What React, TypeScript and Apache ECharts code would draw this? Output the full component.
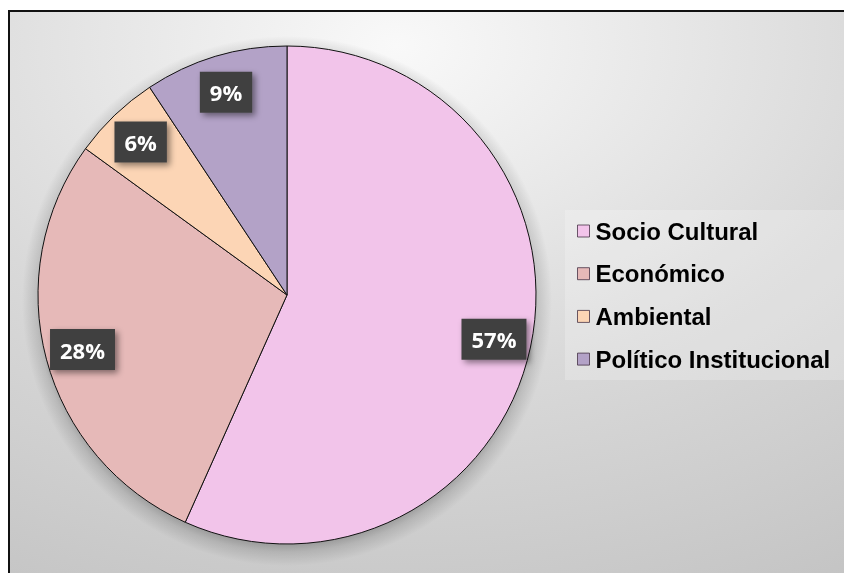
import React, { useEffect, useRef } from "react";
import * as echarts from "echarts";

const categories = ["Socio Cultural", "Económico", "Ambiental", "Político Institucional"];
const values = [56.7, 28.3, 5.7, 9.3];
const colors = ["#f2c4ea", "#e6b9b8", "#fcd5b5", "#b3a2c7"];

const CX = 287;
const CY = 295;
const R = 249;
const SH = 16;

export default function App() {
  const ref = useRef<HTMLDivElement>(null);

  useEffect(() => {
    if (!ref.current) return;
    const chart = echarts.init(ref.current, undefined, { renderer: "svg" });
    const option: any = {
      animation: false,
      graphic: [
        {
          type: "rect",
          z: -10,
          silent: true,
          shape: { x: 9, y: 11, width: 860, height: 580 },
          style: {
            fill: {
              type: "radial",
              x: 0.45,
              y: 0.06,
              r: 1.15,
              colorStops: [
                { offset: 0, color: "#f9f9f9" },
                { offset: 0.5, color: "#d9d9d9" },
                { offset: 1, color: "#c0c0c0" },
              ],
            },
            stroke: "#111",
            lineWidth: 2,
          },
        },
        {
          type: "circle",
          z: -5,
          silent: true,
          shape: { cx: CX, cy: CY + 6, r: R + SH },
          style: {
            fill: {
              type: "radial",
              x: 0.5,
              y: 0.5,
              r: 0.5,
              colorStops: [
                { offset: 0, color: "rgba(0,0,0,0.3)" },
                { offset: (R - 10) / (R + SH), color: "rgba(0,0,0,0.3)" },
                { offset: (R + 2) / (R + SH), color: "rgba(0,0,0,0.12)" },
                { offset: 1, color: "rgba(0,0,0,0)" },
              ],
            },
          },
        },
      ],
      legend: {
        orient: "vertical",
        left: 565,
        top: 210,
        padding: [9, 14, 9, 12],
        backgroundColor: "rgba(255,255,255,0.22)",
        data: categories,
        icon: "rect",
        itemWidth: 12,
        itemHeight: 12,
        itemGap: 18.7,
        itemStyle: { borderColor: "rgba(60,40,60,0.75)", borderWidth: 1 },
        textStyle: {
          fontFamily: "Liberation Sans, Arial, sans-serif",
          fontWeight: "bold",
          fontSize: 24,
          lineHeight: 24,
          color: "#000",
          padding: [0, 0, 0, 1],
        },
      },
      series: [
        {
          type: "pie",
          z: 2,
          center: [CX, CY],
          radius: R,
          startAngle: 90,
          clockwise: true,
          itemStyle: { borderColor: "#111", borderWidth: 1 },
          label: {
            show: true,
            position: "inside",
            formatter: (p: any) => `${Math.round(p.value)}%`,
            color: "#fff",
            fontFamily: "Open Sans, Lato, sans-serif",
            fontWeight: "bold",
            fontSize: 22,
            lineHeight: 25,
            backgroundColor: "#404040",
            padding: [8, 10],
            shadowColor: "rgba(0,0,0,0.45)",
            shadowBlur: 6,
            shadowOffsetX: 3,
            shadowOffsetY: 3,
          },
          labelLine: { show: false },
          labelLayout: (params: any) => {
            const r = params.labelRect;
            const cx = r.x + r.width / 2;
            const cy = r.y + r.height / 2;
            const dx = cx - CX;
            const dy = cy - CY;
            const d = Math.hypot(dx, dy) || 1;
            const k = (0.85 * R) / d;
            return { x: CX + dx * k, y: CY + dy * k };
          },
          data: categories.map((name, i) => ({
            name,
            value: values[i],
            itemStyle: { color: colors[i] },
          })),
        },
      ],
    };
    chart.setOption(option);
    return () => chart.dispose();
  }, []);

  return (
    <div
      ref={ref}
      style={{ position: "fixed", left: 0, top: 0, width: 844, height: 573 }}
    />
  );
}
